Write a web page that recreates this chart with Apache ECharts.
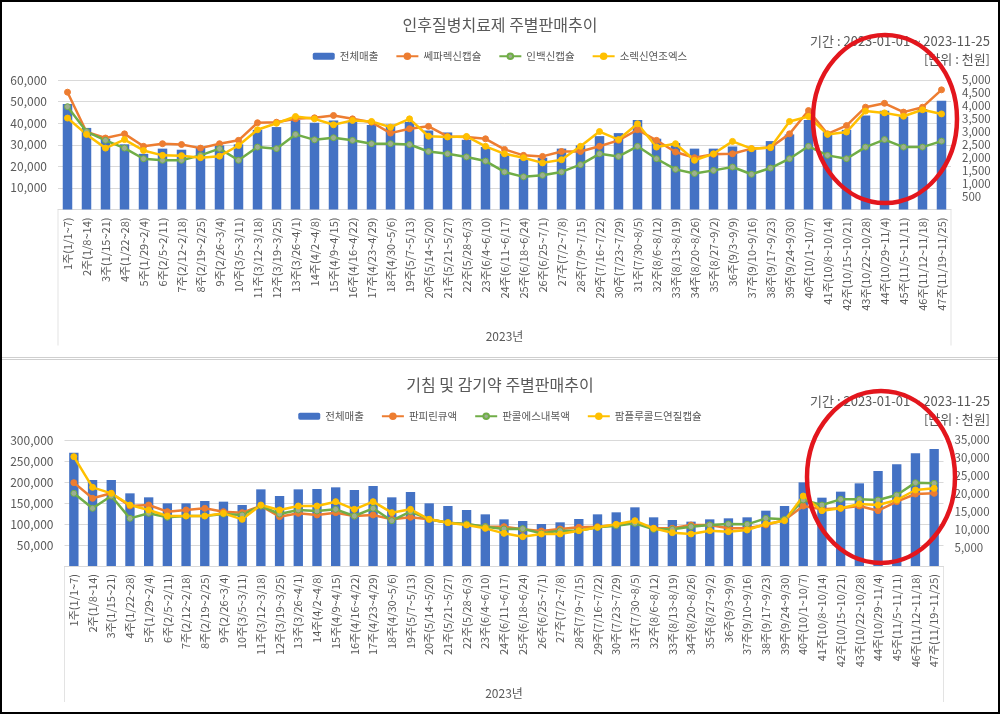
<!DOCTYPE html>
<html>
<head>
<meta charset="utf-8">
<title>주별판매추이</title>
<script src="https://cdn.jsdelivr.net/npm/echarts@6/dist/echarts.min.js"></script>
<style>
  body { margin: 0; background: #fff; }
  #wrap { position: relative; width: 1000px; height: 714px; overflow: hidden; }
  #top { position: absolute; left: 0; top: 0; width: 1000px; height: 358px; }
  #bottom { position: absolute; left: 0; top: 360px; width: 1000px; height: 354px; }
  #sep { position: absolute; left: 0; top: 357px; width: 1000px; height: 3px; border-top: 1px solid #cfcfcf; border-bottom: 1px solid #cfcfcf; box-sizing: border-box; }
  #frame { position: absolute; left: 0; top: 0; width: 1000px; height: 714px; border: 2px solid #000; box-sizing: border-box; pointer-events: none; }
</style>
</head>
<body>
<div id="wrap">
  <div id="top"></div>
  <div id="bottom"></div>
  <div id="sep"></div>
  <div id="frame"></div>
</div>
<script type="text/javascript">
// 주차 (카테고리)
const weeks = [
  '1주(1/1~7)', '2주(1/8~14)', '3주(1/15~21)', '4주(1/22~28)', '5주(1/29~2/4)',
  '6주(2/5~2/11)', '7주(2/12~2/18)', '8주(2/19~2/25)', '9주(2/26~3/4)', '10주(3/5~3/11)',
  '11주(3/12~3/18)', '12주(3/19~3/25)', '13주(3/26~4/1)', '14주(4/2~4/8)', '15주(4/9~4/15)',
  '16주(4/16~4/22)', '17주(4/23~4/29)', '18주(4/30~5/6)', '19주(5/7~5/13)', '20주(5/14~5/20)',
  '21주(5/21~5/27)', '22주(5/28~6/3)', '23주(6/4~6/10)', '24주(6/11~6/17)', '25주(6/18~6/24)',
  '26주(6/25~7/1)', '27주(7/2~7/8)', '28주(7/9~7/15)', '29주(7/16~7/22)', '30주(7/23~7/29)',
  '31주(7/30~8/5)', '32주(8/6~8/12)', '33주(8/13~8/19)', '34주(8/20~8/26)', '35주(8/27~9/2)',
  '36주(9/3~9/9)', '37주(9/10~9/16)', '38주(9/17~9/23)', '39주(9/24~9/30)', '40주(10/1~10/7)',
  '41주(10/8~10/14)', '42주(10/15~10/21)', '43주(10/22~10/28)', '44주(10/29~11/4)', '45주(11/5~11/11)',
  '46주(11/12~11/18)', '47주(11/19~11/25)'
];

// 인후질병치료제 (단위: 천원)
const throatTotal = [
  48900, 37800, 32800, 30200, 25800, 28200, 27700, 28600, 29700, 30200,
  36900, 38200, 41500, 40200, 41200, 40500, 39200, 39400, 40500, 36600,
  35700, 32300, 29000, 26000, 23500, 24000, 28200, 29700, 34000, 35400,
  41500, 32800, 30800, 28200, 28200, 29200, 27800, 31700, 34800, 41500,
  35800, 36900, 43500, 45800, 43100, 46600, 50400
];
const cefalexin = [
  4530, 2990, 2760, 2920, 2440, 2540, 2510, 2370, 2540, 2670,
  3350, 3370, 3500, 3540, 3630, 3500, 3370, 2950, 3120, 3210,
  2820, 2800, 2730, 2320, 2090, 2050, 2240, 2240, 2440, 2670,
  3080, 2670, 2220, 2000, 2130, 2150, 2350, 2390, 2920, 3820,
  2920, 3240, 3950, 4100, 3760, 3950, 4620
];
const inbaeksin = [
  3970, 3010, 2670, 2370, 1960, 1900, 1900, 2090, 2350, 1900,
  2410, 2350, 2900, 2690, 2770, 2670, 2540, 2540, 2510, 2240,
  2150, 2030, 1870, 1450, 1260, 1320, 1450, 1730, 2150, 2050,
  2440, 1960, 1550, 1390, 1510, 1640, 1360, 1600, 1960, 2440,
  2090, 1960, 2410, 2700, 2410, 2410, 2640
];
const sorexin = [
  3530, 2900, 2370, 2700, 2280, 2090, 2080, 2000, 2060, 2470,
  3080, 3330, 3590, 3500, 3270, 3440, 3400, 3180, 3500, 2830,
  2800, 2820, 2440, 2150, 2000, 1800, 1920, 2440, 3010, 2700,
  3310, 2410, 2540, 1900, 2150, 2630, 2350, 2390, 3400, 3590,
  2900, 2990, 3800, 3730, 3600, 3850, 3690
];

// 기침 및 감기약 (단위: 천원)
const coldTotal = [
  269800, 204800, 204800, 173000, 163500, 149200, 149200, 154800, 153200, 145200,
  182500, 166700, 182500, 183300, 187300, 181000, 190500, 163500, 176200, 149200,
  142900, 133300, 123000, 111100, 107100, 100000, 104000, 111900, 123000, 127800,
  139700, 115900, 109500, 105600, 111100, 113500, 115900, 131700, 142900, 199200,
  162700, 177000, 196800, 226200, 242100, 268300, 278600
];
const panpyrin = [
  23150, 18800, 20190, 16670, 16940, 15090, 15560, 16020, 15090, 14820,
  16670, 13700, 14630, 14170, 14820, 13890, 14170, 12960, 13520, 12960,
  12040, 11570, 10930, 10930, 10190, 9720, 10280, 10740, 10930, 11390,
  12040, 10460, 10460, 11390, 11390, 10460, 10460, 11390, 12780, 16670,
  15740, 16020, 16670, 15370, 17870, 20000, 20190
];
const pancol = [
  20190, 16020, 19440, 13240, 14630, 13520, 13890, 13890, 14440, 14170,
  16670, 14440, 15560, 15280, 15740, 13890, 16020, 12590, 15090, 12960,
  12040, 11670, 10930, 10280, 10370, 9070, 9820, 9820, 10740, 11200,
  11850, 10190, 10190, 10930, 11390, 11670, 11570, 13240, 12960, 18330,
  16940, 18520, 18520, 18330, 19720, 23150, 22960
];
const pamplu = [
  30370, 21850, 20190, 16940, 15560, 13890, 13890, 13890, 14630, 12960,
  16940, 15560, 16670, 16670, 17870, 15740, 17870, 14820, 15740, 12960,
  12040, 11390, 10460, 9070, 8150, 8890, 8890, 9820, 10740, 11570,
  12590, 10460, 9260, 8890, 9820, 9540, 10000, 11670, 12590, 19440,
  15370, 16020, 17220, 16940, 18330, 21110, 21570
];

const FONT = '"Noto Sans CJK KR", "Noto Sans", sans-serif';
const GRAY = '#595959';
const fmt = v => v.toLocaleString('en-US');

function lineSeries(name, data, color, dot) {
  return {
    name: name,
    type: 'line',
    yAxisIndex: 1,
    data: data,
    symbol: 'circle',
    symbolSize: 6,
    lineStyle: { width: 2.5, color: color },
    itemStyle: { color: dot || color, borderColor: color, borderWidth: 1 },
    z: 3
  };
}

function buildOption(c) {
  return {
    animation: false,
    textStyle: { fontFamily: FONT },
    title: {
      text: c.title,
      left: 'center',
      top: 17,
      padding: 0,
      textStyle: { fontSize: 16, fontWeight: 'normal', color: GRAY, fontFamily: FONT }
    },
    legend: {
      top: 51,
      left: 'center',
      padding: 0,
      itemWidth: 22,
      itemHeight: 7,
      itemGap: 17,
      textStyle: { fontSize: 10.5, color: GRAY, fontFamily: FONT },
      data: c.names
    },
    graphic: [
      { type: 'text', right: 10, top: 35, style: { text: '기간 : 2023-01-01 ~ 2023-11-25', fill: GRAY, font: '13px ' + FONT } },
      { type: 'text', right: 10, top: 53, style: { text: '[단위 : 천원]', fill: GRAY, font: '13px ' + FONT } },
      { type: 'line', shape: { x1: c.grid.left, y1: c.axisY, x2: c.grid.left, y2: c.axisY + 136 }, style: { stroke: '#e3e3e3', lineWidth: 1 } },
      { type: 'line', shape: { x1: 1000 - c.grid.right, y1: c.axisY, x2: 1000 - c.grid.right, y2: c.axisY + 136 }, style: { stroke: '#e3e3e3', lineWidth: 1 } },
      { type: 'ellipse', z: 100, shape: c.ellipse, style: { fill: 'none', stroke: '#E3161D', lineWidth: 4.5 } }
    ],
    grid: Object.assign({ containLabel: false, outerBoundsMode: 'none' }, c.grid),
    xAxis: {
      type: 'category',
      data: weeks,
      name: '2023년',
      nameLocation: 'middle',
      nameGap: 121,
      nameTextStyle: { color: GRAY, fontSize: 12, fontFamily: FONT },
      axisLabel: { rotate: 90, interval: 0, fontSize: 11, color: GRAY, margin: 8, fontFamily: FONT },
      axisTick: { show: false },
      axisLine: { lineStyle: { color: '#D9D9D9' } }
    },
    yAxis: [
      {
        type: 'value', position: 'left', min: 0, max: c.leftMax, interval: c.leftStep,
        axisLabel: { formatter: fmt, showMinLabel: false, fontSize: 12, color: GRAY, margin: 11, fontFamily: FONT },
        axisLine: { show: false },
        axisTick: { show: false },
        splitLine: { lineStyle: { color: '#D9D9D9' } }
      },
      {
        type: 'value', position: 'right', min: 0, max: c.rightMax, interval: c.rightStep,
        axisLabel: { formatter: fmt, showMinLabel: false, align: 'left', fontSize: 11.5, color: GRAY, margin: 11, fontFamily: FONT },
        axisLine: { show: false },
        axisTick: { show: false },
        splitLine: { show: false }
      }
    ],
    series: [
      {
        name: c.names[0],
        type: 'bar',
        data: c.total,
        barWidth: '50%',
        itemStyle: { color: '#4472C4' },
        z: 2
      },
      lineSeries(c.names[1], c.lines[0], '#ED7D31'),
      lineSeries(c.names[2], c.lines[1], '#70AD47', '#9DAE92'),
      lineSeries(c.names[3], c.lines[2], '#FFC000')
    ]
  };
}

const topChart = echarts.init(document.getElementById('top'));
topChart.setOption(buildOption({
  title: '인후질병치료제 주별판매추이',
  names: ['전체매출', '쎄파렉신캡슐', '인백신캡슐', '소렉신연조엑스'],
  total: throatTotal,
  lines: [cefalexin, inbaeksin, sorexin],
  leftMax: 60000, leftStep: 10000,
  rightMax: 5000, rightStep: 500,
  grid: { left: 58, right: 49, top: 80, bottom: 148.5 },
  axisY: 209.5,
  ellipse: { cx: 885, cy: 119, rx: 72, ry: 84 }
}));

const bottomChart = echarts.init(document.getElementById('bottom'));
bottomChart.setOption(buildOption({
  title: '기침 및 감기약 주별판매추이',
  names: ['전체매출', '판피린큐액', '판콜에스내복액', '팜플루콜드연질캡슐'],
  total: coldTotal,
  lines: [panpyrin, pancol, pamplu],
  leftMax: 300000, leftStep: 50000,
  rightMax: 35000, rightStep: 5000,
  grid: { left: 64.5, right: 56.5, top: 80, bottom: 148 },
  axisY: 206,
  ellipse: { cx: 881, cy: 117, rx: 74, ry: 86 }
}));
</script>
</body>
</html>
